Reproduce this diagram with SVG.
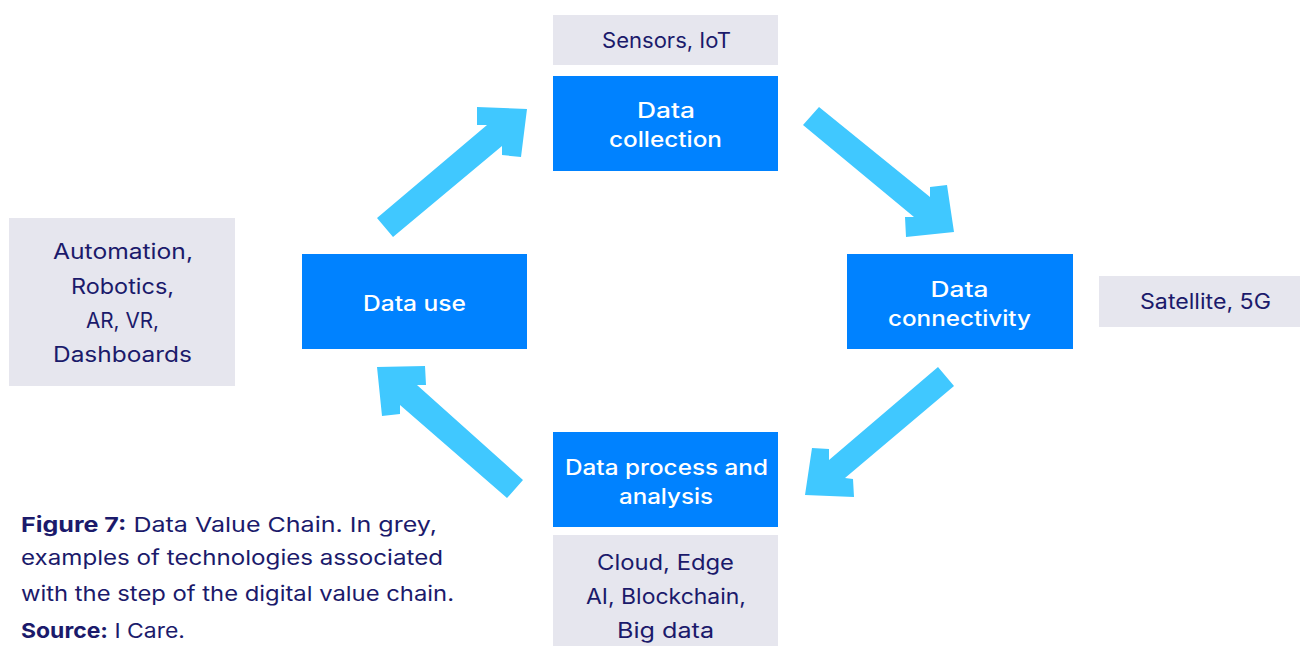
<svg xmlns="http://www.w3.org/2000/svg" width="1300" height="646" viewBox="0 0 1300 646">
<style>
.blue{fill:#0082FF}
.grey{fill:#E6E6EE}
.wt{font-family:"Inter","Liberation Sans",sans-serif;font-size:21px;font-weight:500;fill:#FFFFFF;text-anchor:middle}
.gt{font-family:"Inter","Liberation Sans",sans-serif;font-size:21px;fill:#1B1A6B;text-anchor:middle}
.cap{font-family:"Inter","Liberation Sans",sans-serif;font-size:20.5px;fill:#1B1A6B}
.arr{fill:#40C8FF}
</style>
<rect width="1300" height="646" fill="#FFFFFF"/>
<g id="connectors">
<polygon class="arr" points="377,218 487,125 477,125 477,107 527,109 521,157 502,155 502,146 393,237"/>
<polygon class="arr" points="819,107 930,197 930,187 947,185 954,232 906,237 905,217 914,217 803,125"/>
<polygon class="arr" points="938,367 829,460 829,449 812,448 805,495 854,497 853,479 845,478 954,386"/>
<polygon class="arr" points="523,480 417,385 426,385 425,366 377,367 382,416 400,414 400,405 507,498"/>
</g>
<g id="sensors"><rect class="grey" x="553" y="15" width="225" height="50"/><text class="gt" x="666.5" y="48" textLength="129" lengthAdjust="spacingAndGlyphs">Sensors, IoT</text></g>
<g id="collection"><rect class="blue" x="553" y="76" width="225" height="95"/><text class="wt" x="666" y="118" textLength="58" lengthAdjust="spacingAndGlyphs">Data</text><text class="wt" x="665.5" y="147" textLength="113" lengthAdjust="spacingAndGlyphs">collection</text></g>
<g id="connectivity"><rect class="blue" x="847" y="254" width="226" height="95"/><text class="wt" x="959.5" y="297" textLength="58" lengthAdjust="spacingAndGlyphs">Data</text><text class="wt" x="959.5" y="326" textLength="143" lengthAdjust="spacingAndGlyphs">connectivity</text></g>
<g id="satellite"><rect class="grey" x="1099" y="276" width="201" height="51"/><text class="gt" x="1205.5" y="309" textLength="131" lengthAdjust="spacingAndGlyphs">Satellite, 5G</text></g>
<g id="use"><rect class="blue" x="302" y="254" width="225" height="95"/><text class="wt" x="414.5" y="311" textLength="103" lengthAdjust="spacingAndGlyphs">Data use</text></g>
<g id="automation"><rect class="grey" x="9" y="218" width="226" height="168"/><text class="gt" x="123" y="259" textLength="140" lengthAdjust="spacingAndGlyphs">Automation,</text><text class="gt" x="122.5" y="294" textLength="103" lengthAdjust="spacingAndGlyphs">Robotics,</text><text class="gt" x="122.5" y="328" textLength="73" lengthAdjust="spacingAndGlyphs">AR, VR,</text><text class="gt" x="122.5" y="362" textLength="139" lengthAdjust="spacingAndGlyphs">Dashboards</text></g>
<g id="process"><rect class="blue" x="553" y="432" width="225" height="95"/><text class="wt" x="666.5" y="475" textLength="203" lengthAdjust="spacingAndGlyphs">Data process and</text><text class="wt" x="666" y="504" textLength="94" lengthAdjust="spacingAndGlyphs">analysis</text></g>
<g id="cloud"><rect class="grey" x="553" y="535" width="225" height="111"/><text class="gt" x="665.5" y="570" textLength="137" lengthAdjust="spacingAndGlyphs">Cloud, Edge</text><text class="gt" x="666" y="604" textLength="160" lengthAdjust="spacingAndGlyphs">AI, Blockchain,</text><text class="gt" x="665.5" y="638" textLength="97" lengthAdjust="spacingAndGlyphs">Big data</text></g>
<g id="caption">
<text class="cap" x="21" y="532" textLength="416" lengthAdjust="spacingAndGlyphs"><tspan font-weight="bold">Figure 7:</tspan> Data Value Chain. In grey,</text>
<text class="cap" x="21" y="565" textLength="422" lengthAdjust="spacingAndGlyphs">examples of technologies associated</text>
<text class="cap" x="21" y="601" textLength="433" lengthAdjust="spacingAndGlyphs">with the step of the digital value chain.</text>
<text class="cap" x="21" y="638" textLength="164" lengthAdjust="spacingAndGlyphs"><tspan font-weight="bold">Source:</tspan> I Care.</text>
</g>
</svg>
